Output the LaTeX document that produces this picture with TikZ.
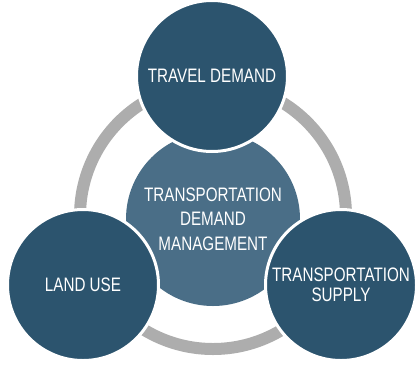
\documentclass[tikz,border=0pt]{standalone}
\usepackage{fontspec}
\setmainfont{Liberation Sans}[FakeStretch=0.78]
\definecolor{tdmdark}{HTML}{2C546E}
\definecolor{tdmmid}{HTML}{4A6E87}
\definecolor{ringgray}{HTML}{ADADAD}

\begin{document}
\begin{tikzpicture}[x=1pt, y=-1pt,
    factor/.style={circle, draw=white, line width=3pt, fill=tdmdark, minimum size=151pt, inner sep=0pt, align=center, text=white, font=\fontsize{19.5}{19.5}\selectfont},
    core/.style={circle, fill=tdmmid, minimum size=174pt, inner sep=0pt, align=center, text=white, font=\fontsize{19.5}{24.5}\selectfont},
    ring/.style={draw=ringgray, line width=12pt}]
    \useasboundingbox (0,0) rectangle (417,370);

    \draw [ring] (213,216) circle (133pt);
    \node (tdm) [core] at (213,219) {TRANSPORTATION\\DEMAND\\MANAGEMENT};
    \node (travel) [factor] at (212,76) {TRAVEL DEMAND};
    \node (land) [factor] at (83,285) {LAND USE};
    \node (supply) [factor] at (341,285) {TRANSPORTATION\\SUPPLY};
\end{tikzpicture}
\end{document}
